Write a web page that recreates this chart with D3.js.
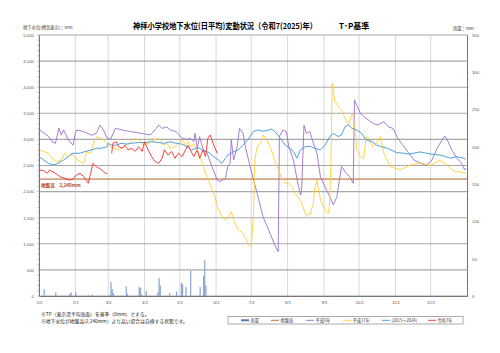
<!DOCTYPE html>
<html>
<head>
<meta charset="utf-8">
<script src="https://cdn.jsdelivr.net/npm/d3@7"></script>
<style>
  body { margin: 0; background: #fff; }
  svg { font-family: "Noto Sans CJK JP", "Noto Sans", sans-serif; }
</style>
</head>
<body>
<div id="chart-area"></div>
<script>
var width = 500;
var height = 353;

// data (day of year, 0 = 1/1)
var monthLabels = ["1/1", "2/1", "3/1", "4/1", "5/1", "6/1", "7/1", "8/1", "9/1", "10/1", "11/1", "12/1"];
var levelTicks = [0, 500, 1000, 1500, 2000, 2500, 3000, 3500, 4000, 4500, 5000];
var rainTicks = [0, 50, 100, 150, 200, 250, 300, 350];
var groundLevel = 2240;

// 平成6年
var h6Day = [0, 8, 11, 14, 17, 19, 21, 25, 29, 31, 32, 38, 45, 49, 52, 55, 58, 61, 65, 66, 71, 78, 86, 95, 100, 102, 105, 109, 112, 117, 122, 126, 129, 132, 133, 135, 137, 140, 143, 147, 152, 154, 159, 161, 163, 164, 166, 169, 171, 174, 176, 180, 186, 191, 197, 201, 204, 205, 208, 211, 213, 217, 220, 223, 224, 226, 228, 231, 234, 237, 240, 244, 248, 251, 254, 258, 262, 265, 268, 269, 274, 277, 281, 285, 289, 294, 298, 302, 306, 310, 315, 320, 325, 330, 335, 340, 344, 346, 348, 352, 356, 360, 363, 364];
var h6Val = [3190, 3060, 2960, 2925, 3215, 3085, 3180, 2990, 2890, 3120, 3180, 3150, 3080, 3120, 3275, 3180, 3030, 3000, 3210, 3210, 3180, 3150, 3120, 3085, 3210, 3275, 3210, 3240, 3180, 3150, 3020, 3000, 3020, 2960, 3115, 2830, 3050, 2800, 2760, 2510, 2220, 2190, 2250, 2480, 2540, 2990, 2605, 2860, 3210, 3115, 2860, 2480, 1970, 1520, 1200, 977, 850, 3060, 3180, 3150, 2860, 2605, 2240, 1935, 2030, 3275, 3115, 3150, 2925, 2735, 2285, 2090, 1900, 1745, 1900, 2480, 2350, 2285, 2160, 3755, 3500, 3440, 3370, 3305, 3275, 3340, 3240, 3210, 3020, 2900, 2750, 2600, 2550, 2500, 2600, 2850, 3000, 3065, 3000, 2800, 2650, 2550, 2415, 2450];

// 平成17年
var h17Day = [0, 4, 8, 11, 15, 19, 22, 25, 28, 31, 35, 38, 41, 44, 46, 49, 52, 55, 59, 63, 68, 72, 76, 79, 82, 85, 89, 93, 98, 102, 106, 109, 112, 116, 119, 122, 125, 127, 130, 132, 135, 138, 142, 146, 150, 153, 157, 160, 163, 164, 167, 170, 174, 177, 179, 181, 183, 184, 186, 189, 191, 194, 198, 203, 207, 210, 213, 216, 218, 221, 224, 227, 228, 230, 231, 234, 235, 237, 238, 240, 242, 245, 247, 248, 249, 250, 251, 252, 255, 258, 261, 264, 267, 268, 270, 271, 274, 277, 279, 282, 285, 288, 291, 294, 297, 299, 304, 308, 316, 325, 334, 342, 348, 351, 355, 360, 364];
var h17Val = [2800, 2770, 2735, 2640, 2575, 2605, 2735, 2670, 2735, 2640, 2575, 2540, 2765, 2735, 2890, 3050, 3020, 2990, 2890, 2830, 2800, 2860, 2925, 2955, 3020, 2990, 2890, 2925, 2990, 3020, 2890, 2925, 2830, 2860, 2925, 2990, 2890, 2955, 2860, 2925, 2765, 2620, 2350, 2140, 1900, 1650, 1490, 1460, 1585, 1615, 1395, 1265, 1200, 1075, 977, 945, 1600, 2605, 2860, 2925, 3085, 3020, 2800, 2480, 2255, 2160, 2160, 2095, 1970, 1900, 1775, 1585, 1520, 1585, 1555, 1775, 2030, 2220, 2090, 1840, 1745, 1615, 1585, 1840, 2605, 4075, 3950, 3755, 3630, 3565, 3405, 3275, 3500, 3440, 3055, 2800, 2670, 2640, 3055, 2990, 2860, 2925, 3055, 2735, 2605, 2480, 2450, 2415, 2500, 2550, 2500, 2605, 2510, 2445, 2380, 2380, 2350];

// (2015～2024)
var avgDay = [0, 4, 8, 12, 16, 21, 25, 29, 35, 39, 45, 49, 53, 58, 59, 62, 66, 70, 75, 79, 85, 90, 96, 102, 106, 112, 117, 122, 126, 130, 134, 137, 140, 144, 149, 153, 156, 159, 161, 166, 170, 174, 178, 183, 187, 191, 196, 198, 201, 206, 210, 214, 217, 220, 223, 227, 231, 235, 240, 244, 248, 251, 255, 258, 261, 264, 267, 271, 275, 279, 284, 288, 292, 297, 301, 305, 308, 316, 325, 334, 342, 351, 356, 362, 364];
var avgVal = [2670, 2605, 2540, 2510, 2540, 2605, 2670, 2735, 2735, 2765, 2800, 2830, 2830, 2860, 2925, 2890, 2890, 2925, 2910, 2925, 2940, 2940, 2955, 2940, 2925, 2955, 2925, 2910, 2860, 2800, 2830, 2830, 2780, 2760, 2670, 2605, 2540, 2640, 2700, 2765, 2800, 2890, 2990, 3155, 3180, 3155, 3180, 3200, 3155, 3020, 2890, 2830, 2765, 2640, 2800, 2860, 2870, 2830, 2800, 2890, 3055, 3115, 3055, 3085, 3245, 3275, 3210, 3180, 3120, 2990, 2960, 2890, 2860, 2830, 2790, 2745, 2745, 2720, 2760, 2720, 2700, 2640, 2670, 2640, 2620];

// 令和7年 (null = 欠測)
var r7Day = [0, 4, 7, 9, 14, 18, 22, 26, 29, 32, 35, 38, 42, 44, 46, 49, 52, 55, 58, 60, 62, 63, 66, 68, 71, 73, 76, 79, 82, 85, 88, 90, 93, 96, 99, 102, 105, 107, 110, 113, 116, 119, 122, 125, 127, 132, 135, 137, 140, 142, 144, 146, 149, 152];
var r7Val = [2415, 2400, 2350, 2415, 2350, 2285, 2255, 2220, 2240, 2320, 2350, 2290, 2160, 2350, 2540, 2475, 2440, 2380, 2340, null, 2735, 2925, 2955, 2860, 2830, 2890, 2800, 2830, 2770, 2860, 2770, 2955, 2800, 2670, 2575, 2540, 2640, 2800, 2700, 2770, 2640, 2735, 2670, 2800, 2890, 2670, 2800, 2640, 2800, 2670, 3020, 3085, 2890, 2735];

// 雨量
var rainDay = [4, 14, 26, 27, 31, 42, 45, 60, 61, 62, 63, 74, 75, 85, 86, 87, 91, 101, 102, 103, 111, 117, 121, 122, 125, 129, 137, 140, 141, 142];
var rainMm = [9, 5, 3, 5, 5, 1, 2, 1, 19, 9, 4, 13, 3, 12, 11, 2, 7, 5, 24, 14, 4, 6, 18, 16, 12, 34, 12, 27, 48, 14];

var seriesList = [
  { name: "平成6年", days: h6Day, vals: h6Val, color: "#9b6fcf" },
  { name: "平成17年", days: h17Day, vals: h17Val, color: "#ffcf33" },
  { name: "(2015～2024)", days: avgDay, vals: avgVal, color: "#3d96d8" },
  { name: "令和7年", days: r7Day, vals: r7Val, color: "#ff2a2a" }
];

// Canvas
var svg = d3.select("#chart-area")
  .append("svg")
  .attr("width", width)
  .attr("height", height);

var plotLeft = 39, plotRight = 467, plotTop = 35, plotBottom = 296;
var start = new Date(2025, 0, 1);
var end = new Date(2026, 0, 1);

var x = d3.scaleTime().domain([start, end]).range([plotLeft, plotRight]);
var y = d3.scaleLinear().domain([0, 5000]).range([plotBottom, plotTop]);
var yRain = d3.scaleLinear().domain([0, 350]).range([plotBottom, plotTop]);

function dayDate(d) { return d3.timeDay.offset(start, d); }
var months = d3.timeMonth.range(start, end);

// gridlines
svg.append("g")
  .selectAll("line")
  .data(months)
  .enter().append("line")
  .attr("x1", function(d) { return x(d); })
  .attr("x2", function(d) { return x(d); })
  .attr("y1", plotTop).attr("y2", plotBottom)
  .attr("stroke", "#cfcfcf").attr("stroke-width", 0.8);

svg.append("g")
  .selectAll("line")
  .data(levelTicks)
  .enter().append("line")
  .attr("x1", plotLeft).attr("x2", plotRight)
  .attr("y1", function(d) { return y(d); })
  .attr("y2", function(d) { return y(d); })
  .attr("stroke", "#a8a8a8").attr("stroke-width", 1.1);

// rain bars
var defs = svg.append("defs");
var grad = defs.append("linearGradient").attr("id", "rainGrad")
  .attr("x1", "0%").attr("x2", "100%");
grad.append("stop").attr("offset", "0%").attr("stop-color", "#5f82b8");
grad.append("stop").attr("offset", "100%").attr("stop-color", "#c5d5ec");

svg.append("g")
  .selectAll("rect")
  .data(rainDay)
  .enter().append("rect")
  .attr("x", function(d) { return x(dayDate(d)); })
  .attr("y", function(d, i) { return yRain(rainMm[i]); })
  .attr("width", 1.3)
  .attr("height", function(d, i) { return plotBottom - yRain(rainMm[i]); })
  .attr("fill", "url(#rainGrad)");

// ground level
svg.append("line")
  .attr("x1", plotLeft).attr("x2", plotRight)
  .attr("y1", y(groundLevel)).attr("y2", y(groundLevel))
  .attr("stroke", "#b0622a").attr("stroke-width", 1);

svg.append("text")
  .attr("x", 41).attr("y", y(groundLevel) + 8)
  .attr("font-size", 4.6).attr("fill", "#b0402a").attr("font-weight", "bold")
  .text("地盤高　2,240mm");

// lines
var line = d3.line()
  .defined(function(d) { return d[1] !== null; })
  .x(function(d) { return x(dayDate(d[0])); })
  .y(function(d) { return y(d[1]); });

seriesList.forEach(function(s) {
  var pts = s.days.map(function(d, i) { return [d, s.vals[i]]; });
  svg.append("path")
    .datum(pts)
    .attr("fill", "none")
    .attr("stroke", s.color)
    .attr("stroke-width", 0.9)
    .attr("stroke-linejoin", "round")
    .attr("d", line);
});

// axes
var yAxis = d3.axisLeft(y).tickValues(levelTicks).tickSize(0).tickPadding(5)
  .tickFormat(d3.format(","));
var gy = svg.append("g").attr("transform", "translate(" + plotLeft + ",0)").call(yAxis);
gy.select(".domain").attr("stroke", "#777");
gy.selectAll("text").attr("font-size", 4.3).attr("fill", "#555");

// minor ticks left
svg.append("g")
  .selectAll("line")
  .data(d3.range(0, 5001, 100))
  .enter().append("line")
  .attr("x1", plotLeft - 1.5).attr("x2", plotLeft)
  .attr("y1", function(d) { return y(d); })
  .attr("y2", function(d) { return y(d); })
  .attr("stroke", "#777").attr("stroke-width", 0.5);

var rAxis = d3.axisRight(yRain).tickValues(rainTicks).tickSize(0).tickPadding(5);
var gr = svg.append("g").attr("transform", "translate(" + plotRight + ",0)").call(rAxis);
gr.select(".domain").attr("stroke", "#777");
gr.selectAll("text").attr("font-size", 4.3).attr("fill", "#555");

svg.append("g")
  .selectAll("line")
  .data(d3.range(0, 351, 10))
  .enter().append("line")
  .attr("x1", plotRight).attr("x2", plotRight + 1.5)
  .attr("y1", function(d) { return yRain(d); })
  .attr("y2", function(d) { return yRain(d); })
  .attr("stroke", "#777").attr("stroke-width", 0.5);

var xAxis = d3.axisBottom(x).tickValues(months).tickSize(0).tickPadding(5)
  .tickFormat(function(d, i) { return monthLabels[i]; });
var gx = svg.append("g").attr("transform", "translate(0," + plotBottom + ")").call(xAxis);
gx.select(".domain").attr("stroke", "#777");
gx.selectAll("text").attr("font-size", 4.3).attr("fill", "#555");

// titles
svg.append("text")
  .attr("x", 133).attr("y", 29)
  .attr("font-size", 8).attr("font-weight", "bold")
  .attr("textLength", 184).attr("lengthAdjust", "spacingAndGlyphs")
  .text("神拝小学校地下水位(日平均)変動状況（令和7(2025)年）");

svg.append("text")
  .attr("x", 339).attr("y", 29)
  .attr("font-size", 8).attr("font-weight", "bold")
  .text("T･P基準");

svg.append("text")
  .attr("x", 23).attr("y", 29)
  .attr("font-size", 4.3).attr("fill", "#333")
  .text("地下水位(標高表示)：mm");

svg.append("text")
  .attr("x", 453).attr("y", 30)
  .attr("font-size", 4.3).attr("fill", "#333")
  .text("雨量：mm");

// notes
svg.append("text")
  .attr("x", 41).attr("y", 315.5)
  .attr("font-size", 4.8).attr("fill", "#222")
  .text("※TP（東京湾平均海面）を基準（0mm）とする。");
svg.append("text")
  .attr("x", 41).attr("y", 322.5)
  .attr("font-size", 4.8).attr("fill", "#222")
  .text("※地下水位が地盤高(2,240mm）より高い場合は自噴する状態です。");

// legend
var legend = svg.append("g");
legend.append("rect")
  .attr("x", 228).attr("y", 316.5).attr("width", 235).attr("height", 7.5)
  .attr("fill", "#fff").attr("stroke", "#888").attr("stroke-width", 0.7);

var legendItems = [
  { name: "雨量", color: "#4f79b8", x: 241, w: 2 },
  { name: "地盤高", color: "#b0622a", x: 271, w: 0.9 },
  { name: "平成6年", color: "#9b6fcf", x: 306, w: 0.9 },
  { name: "平成17年", color: "#ffcf33", x: 343, w: 0.9 },
  { name: "(2015～2024)", color: "#3d96d8", x: 382, w: 0.9 },
  { name: "令和7年", color: "#ff2a2a", x: 428, w: 0.9 }
];

legendItems.forEach(function(d) {
  legend.append("line")
    .attr("x1", d.x).attr("x2", d.x + 8)
    .attr("y1", 320.3).attr("y2", 320.3)
    .attr("stroke", d.color).attr("stroke-width", d.w);
  legend.append("text")
    .attr("x", d.x + 9.5).attr("y", 321.8)
    .attr("font-size", 4.2).attr("fill", "#333")
    .text(d.name);
});
</script>
</body>
</html>
